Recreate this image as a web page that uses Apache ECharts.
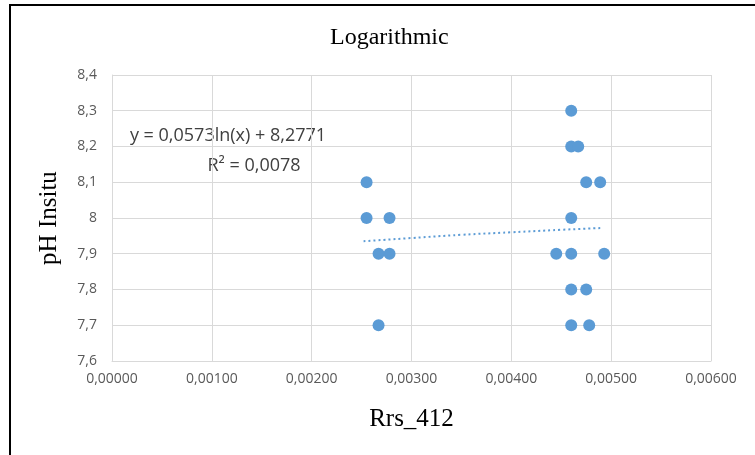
<!DOCTYPE html>
<html>
<head>
<meta charset="utf-8">
<script src="https://cdn.jsdelivr.net/npm/echarts@6/dist/echarts.min.js"></script>
<style>
  html, body { margin: 0; padding: 0; background: #fff; }
  #wrap { position: relative; width: 755px; height: 455px; overflow: hidden; }
  #frame { position: absolute; left: 9px; top: 4px; width: 800px; height: 500px; border: 2px solid #000; box-sizing: border-box; }
  #chart { position: absolute; left: 0; top: 0; width: 755px; height: 455px; }
</style>
</head>
<body>
<div id="wrap">
  <div id="frame"></div>
  <div id="chart"></div>
</div>
<script>
// Rrs_412 vs pH Insitu
const rrs412 = [
  0.00255, 0.00255, 0.00278, 0.00267, 0.00278, 0.00267,
  0.00460, 0.00460, 0.00467, 0.00475, 0.00489, 0.00460,
  0.00445, 0.00460, 0.00493, 0.00460, 0.00475, 0.00460, 0.00478,
]
const phInsitu = [
  8.1, 8.0, 8.0, 7.9, 7.9, 7.7,
  8.3, 8.2, 8.2, 8.1, 8.1, 8.0,
  7.9, 7.9, 7.9, 7.8, 7.8, 7.7, 7.7,
]
// dotted log trendline
const trendX = [0.00252, 0.00300, 0.00350, 0.00400, 0.00450, 0.00490]
const trendY = [7.935, 7.944, 7.953, 7.960, 7.967, 7.972]

const equation = 'y = 0,0573ln(x) + 8,2771'
const rSquared = 'R² = 0,0078'

const blue = '#5B9BD5'
const labelFont = '"Open Sans", "Liberation Sans", sans-serif'
const serif = '"Liberation Serif", "DejaVu Serif", serif'

function fmtY(v) {
  return String(Math.round(v * 10) / 10).replace('.', ',')
}
function fmtX(v) {
  return v.toFixed(5).replace('.', ',')
}

const chart = echarts.init(document.getElementById('chart'))
chart.setOption({
  backgroundColor: 'transparent',
  animation: false,
  title: {
    text: 'Logarithmic',
    left: 325,
    top: 21,
    textStyle: { fontFamily: serif, fontSize: 24, fontWeight: 'normal', color: '#000' },
  },
  grid: { left: 112, right: 44, top: 75, bottom: 94 },
  xAxis: {
    type: 'value',
    min: 0,
    max: 0.006,
    interval: 0.001,
    name: 'Rrs_412',
    nameLocation: 'middle',
    nameGap: 46,
    nameTextStyle: { fontFamily: serif, fontSize: 25, color: '#000' },
    axisLine: { show: true, lineStyle: { color: '#d9d9d9' } },
    axisTick: { show: false },
    axisLabel: { color: '#595959', fontFamily: labelFont, fontSize: 14, margin: 11, formatter: fmtX },
    splitLine: { show: true, lineStyle: { color: '#d9d9d9' } },
  },
  yAxis: {
    type: 'value',
    min: 7.6,
    max: 8.4,
    interval: 0.1,
    name: 'pH Insitu',
    nameLocation: 'middle',
    nameGap: 50,
    nameTextStyle: { fontFamily: serif, fontSize: 25, color: '#000' },
    axisLine: { show: true, lineStyle: { color: '#d9d9d9' } },
    axisTick: { show: false },
    axisLabel: { color: '#595959', fontFamily: labelFont, fontSize: 14, margin: 15, formatter: fmtY },
    splitLine: { show: true, lineStyle: { color: '#d9d9d9' } },
  },
  graphic: [
    {
      type: 'text',
      style: {
        text: equation,
        x: 228,
        y: 136,
        align: 'center',
        verticalAlign: 'middle',
        font: '18px ' + labelFont,
        fill: '#404040',
      },
    },
    {
      type: 'text',
      style: {
        text: rSquared,
        x: 254,
        y: 166,
        align: 'center',
        verticalAlign: 'middle',
        font: '18px ' + labelFont,
        fill: '#404040',
      },
    },
  ],
  series: [
    {
      name: 'trend',
      type: 'line',
      smooth: true,
      showSymbol: false,
      data: trendX.map((x, i) => [x, trendY[i]]),
      lineStyle: { color: blue, width: 2, type: [2, 3] },
      z: 1,
    },
    {
      name: 'pH',
      type: 'scatter',
      symbolSize: 12,
      data: rrs412.map((x, i) => [x, phInsitu[i]]),
      itemStyle: { color: blue, opacity: 1 },
      z: 2,
    },
  ],
})
</script>
</body>
</html>
